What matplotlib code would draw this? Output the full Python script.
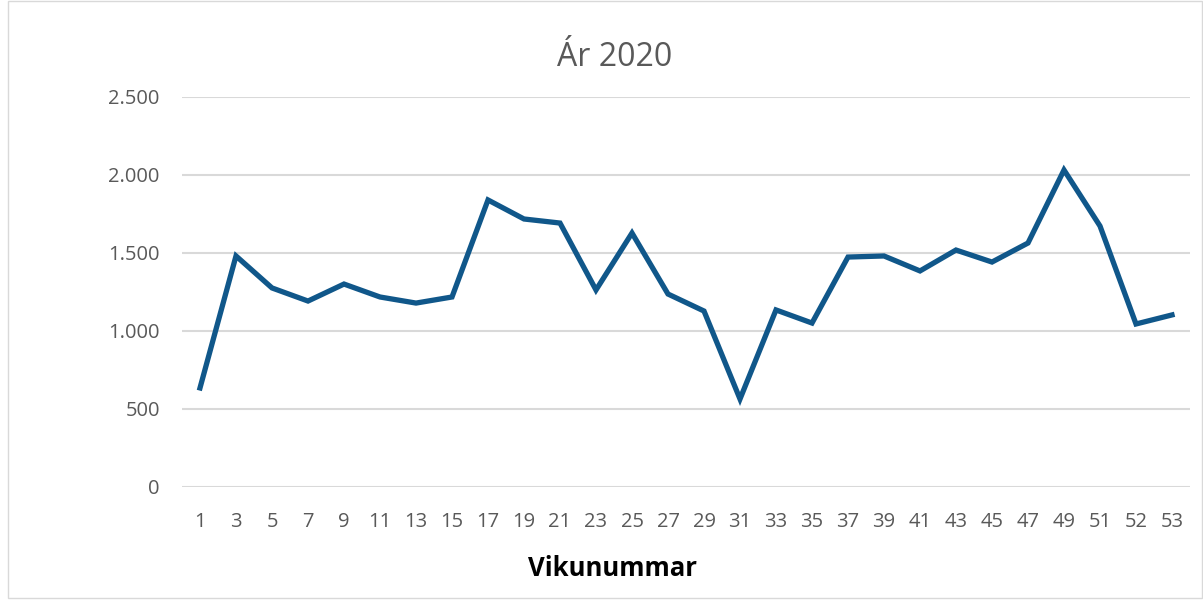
import matplotlib
matplotlib.use("Agg")
import matplotlib.pyplot as plt
from matplotlib.patches import Rectangle
from matplotlib.ticker import FuncFormatter

plt.rcParams['font.family'] = ['Open Sans', 'DejaVu Sans']

WEEKS = ['1', '3', '5', '7', '9', '11', '13', '15', '17', '19', '21', '23', '25', '27',
         '29', '31', '33', '35', '37', '39', '41', '43', '45', '47', '49', '51', '52', '53']
VALUES = [635, 1481, 1276, 1192, 1301, 1218, 1179, 1218, 1840, 1718, 1692, 1263, 1628, 1237,
          1128, 564, 1135, 1051, 1474, 1481, 1385, 1519, 1442, 1564, 2032, 1673, 1045, 1103]
Y_TICKS = [0, 500, 1000, 1500, 2000, 2500]

GRAY_TEXT = '#595959'
GRID = '#D9D9D9'
LINE = '#10578A'

fig = plt.figure(figsize=(12.03, 6.01), dpi=100)
ax = fig.add_axes([182 / 1203, 1 - 487 / 601, (1190 - 182) / 1203, (487 - 97) / 601])

x = range(len(WEEKS))
ax.plot(x, VALUES, color=LINE, linewidth=3.8, solid_joinstyle='miter', zorder=3)

ax.set_xlim(-0.5, len(WEEKS) - 0.5)
ax.set_ylim(0, 2500)
ax.set_xticks(list(x))
ax.set_xticklabels(WEEKS)
ax.set_yticks(Y_TICKS)
ax.yaxis.set_major_formatter(FuncFormatter(lambda v, p: f"{int(v):,}".replace(",", ".")))

ax.grid(axis='y', color=GRID, linewidth=1.5, zorder=0)
for s in ax.spines.values():
    s.set_visible(False)
ax.tick_params(axis='both', length=0, labelsize=14.5, labelcolor=GRAY_TEXT)
ax.tick_params(axis='y', pad=16)
ax.tick_params(axis='x', pad=18)

# x label sits centred on the chart area, not the plot area
ax.set_xlabel('Vikunummar', fontsize=18.5, fontweight='bold', color='black')
ax.xaxis.set_label_coords((612 - 182) / 1008, -0.21)
ax.xaxis.label.set_va('center')
fig.text(0.5105, 1 - 57 / 601, 'Ár 2020', fontsize=23, color=GRAY_TEXT, ha='center', va='center')

fig.patches.append(Rectangle((8 / 1203, 3 / 601), 1 - 9 / 1203, 1 - 4 / 601,
                             transform=fig.transFigure, fill=False,
                             edgecolor=GRID, linewidth=1))

fig.savefig('out.png', dpi=100)
